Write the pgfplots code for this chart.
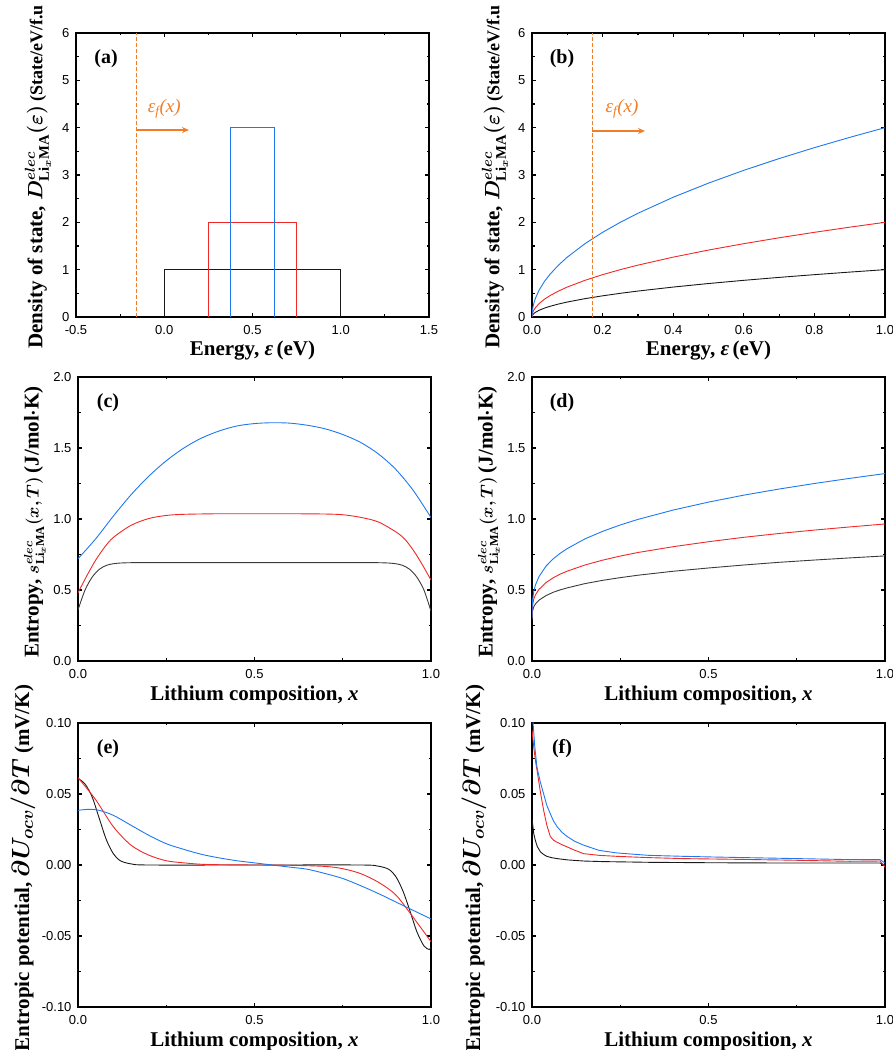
\documentclass[border=0pt]{standalone}
\usepackage{fontspec}
\setmainfont{Liberation Serif}
\setsansfont{Liberation Sans}
\usepackage{pgfplots}
\pgfplotsset{compat=1.18}
\usetikzlibrary{arrows.meta}
\definecolor{cblue}{RGB}{30,120,240}
\definecolor{cred}{RGB}{240,40,40}
\definecolor{cblack}{RGB}{25,25,25}
\definecolor{corange}{RGB}{240,125,40}
\newcommand\fs[1]{\fontsize{#1}{#1}\selectfont}
\pgfplotsset{
  myaxis/.style={
    scale only axis, width=353pt, height=284pt, anchor=south west,
    axis line style={line width=1.4pt},
    tick align=inside, major tick length=4pt, minor tick length=2.5pt,
    every tick/.style={line width=1.2pt, black},
    minor x tick num=1, minor y tick num=1,
    tick label style={font=\fontsize{13}{13}\selectfont\sffamily},
    xticklabel style={yshift=-5pt},
    yticklabel style={xshift=-3pt},
    /pgf/number format/assume math mode=true,
    label style={font=\fontsize{21}{23}\selectfont\bfseries\boldmath},
    xlabel style={at={(axis description cs:0.5,0)}, anchor=center, yshift=-34pt},
    every axis plot/.append style={line width=0.9pt},
    clip=true,
  },
  panel/.style={after end axis/.code={\node[font=\fontsize{20}{20}\selectfont\bfseries] at (axis description cs:0.085,0.91) {#1};}},
}
\begin{document}
\begin{tikzpicture}
\useasboundingbox (0,0) rectangle (893pt,1050pt);
% (a)
\begin{axis}[myaxis, at={(76pt,733pt)},
  xmin=-0.5, xmax=1.5, ymin=0, ymax=6,
  xtick={-0.5,0,0.5,1,1.5}, ytick={0,1,2,3,4,5,6},
  xticklabel style={/pgf/number format/.cd, fixed, fixed zerofill, precision=1},
  xlabel={Energy, \textit{ε}\,(eV)},
  ylabel={Density of state, $D^{elec}_{\mathrm{Li}_x\mathrm{MA}}(\varepsilon)$\,{\fs{18}(State/eV/f.u}},
  ylabel style={at={(axis description cs:0,0.5)}, anchor=center, yshift=38pt, xshift=-2pt},
  panel={(a)}]
\addplot[cblack] coordinates {(0,0)(0,1)(1,1)(1,0)};
\addplot[cred] coordinates {(0.25,0)(0.25,2)(0.75,2)(0.75,0)};
\addplot[cblue] coordinates {(0.375,0)(0.375,4)(0.625,4)(0.625,0)};
\addplot[corange, line width=1pt, dash pattern=on 4pt off 2pt] coordinates {(-0.16,0)(-0.16,6)};
\draw[corange, line width=1.8pt, -{Stealth[length=7pt,width=6pt]}] (axis cs:-0.16,3.95) -- (axis cs:0.14,3.95);
\node[corange, font=\fontsize{19}{19}\selectfont\itshape] at (axis cs:0.0,4.4) {ε\textsubscript{f}(x)};
\end{axis}
% (b)
\begin{axis}[myaxis, at={(532pt,733pt)},
  xmin=0, xmax=1, ymin=0, ymax=6,
  xtick={0,0.2,0.4,0.6,0.8,1}, ytick={0,1,2,3,4,5,6},
  xticklabel style={/pgf/number format/.cd, fixed, fixed zerofill, precision=1},
  xlabel={Energy, \textit{ε}\,(eV)},
  ylabel={Density of state, $D^{elec}_{\mathrm{Li}_x\mathrm{MA}}(\varepsilon)$\,{\fs{18}(State/eV/f.u}},
  ylabel style={at={(axis description cs:0,0.5)}, anchor=center, yshift=37pt, xshift=-2pt},
  panel={(b)}]
\addplot[cblack] coordinates {(0,0)(0.001,0.0316)(0.003,0.0548)(0.006,0.0775)(0.01,0.1)(0.02,0.1414)(0.035,0.1871)(0.05,0.2236)(0.075,0.2739)(0.1,0.3162)(0.15,0.3873)(0.2,0.4472)(0.25,0.5)(0.3,0.5477)(0.4,0.6325)(0.5,0.7071)(0.6,0.7746)(0.7,0.8367)(0.8,0.8944)(0.9,0.9487)(1,1)};
\addplot[cred] coordinates {(0,0)(0.001,0.0632)(0.003,0.1095)(0.006,0.1549)(0.01,0.2)(0.02,0.2828)(0.035,0.3742)(0.05,0.4472)(0.075,0.5477)(0.1,0.6325)(0.15,0.7746)(0.2,0.8944)(0.25,1.0)(0.3,1.0954)(0.4,1.2649)(0.5,1.4142)(0.6,1.5492)(0.7,1.6733)(0.8,1.7889)(0.9,1.8974)(1,2)};
\addplot[cblue] coordinates {(0,0)(0.001,0.1265)(0.003,0.2191)(0.006,0.3098)(0.01,0.4)(0.02,0.5657)(0.035,0.7483)(0.05,0.8944)(0.075,1.0954)(0.1,1.2649)(0.15,1.5492)(0.2,1.7889)(0.25,2.0)(0.3,2.1909)(0.4,2.5298)(0.5,2.8284)(0.6,3.0984)(0.7,3.3466)(0.8,3.5777)(0.9,3.7947)(1,4)};
\addplot[corange, line width=1pt, dash pattern=on 4pt off 2pt] coordinates {(0.17,0)(0.17,6)};
\draw[corange, line width=1.8pt, -{Stealth[length=7pt,width=6pt]}] (axis cs:0.17,3.93) -- (axis cs:0.32,3.93);
\node[corange, font=\fontsize{19}{19}\selectfont\itshape] at (axis cs:0.255,4.4) {ε\textsubscript{f}(x)};
\end{axis}
% (c)
\begin{axis}[myaxis, at={(78pt,389pt)},
  xmin=0, xmax=1, ymin=0, ymax=2,
  xtick={0,0.5,1}, ytick={0,0.5,1,1.5,2},
  xticklabel style={/pgf/number format/.cd, fixed, fixed zerofill, precision=1},
  yticklabel style={/pgf/number format/.cd, fixed, fixed zerofill, precision=1},
  xlabel={Lithium composition, \textit{x}},
  ylabel={Entropy, {\fs{17.5}$s^{elec}_{\mathrm{Li}_x\mathrm{MA}}(x,T)$}\,(J/mol$\cdot$K)},
  ylabel style={at={(axis description cs:0,0.5)}, anchor=center, yshift=43pt, xshift=-3pt},
  panel={(c)}]
\addplot[cblack!85, smooth] coordinates {(0,0.36)(0.02,0.50)(0.04,0.59)(0.06,0.645)(0.08,0.673)(0.1,0.685)(0.13,0.691)(0.2,0.693)(0.5,0.693)(0.8,0.693)(0.87,0.691)(0.9,0.685)(0.92,0.673)(0.94,0.645)(0.96,0.59)(0.98,0.50)(1,0.35)};
\addplot[cred, smooth] coordinates {(0,0.48)(0.025,0.60)(0.05,0.71)(0.075,0.80)(0.1,0.87)(0.15,0.955)(0.2,1.003)(0.25,1.025)(0.3,1.033)(0.4,1.037)(0.5,1.037)(0.6,1.037)(0.7,1.035)(0.75,1.03)(0.8,1.012)(0.85,0.98)(0.9,0.91)(0.925,0.86)(0.95,0.78)(0.975,0.68)(1,0.57)};
\addplot[cblue, smooth] coordinates {(0,0.72)(0.05,0.86)(0.1,1.02)(0.15,1.17)(0.2,1.30)(0.25,1.41)(0.3,1.50)(0.35,1.57)(0.4,1.62)(0.45,1.655)(0.5,1.672)(0.55,1.678)(0.6,1.675)(0.65,1.66)(0.7,1.635)(0.75,1.595)(0.8,1.54)(0.85,1.46)(0.9,1.35)(0.95,1.20)(1,1.01)};
\end{axis}
% (d)
\begin{axis}[myaxis, at={(532pt,389pt)},
  xmin=0, xmax=1, ymin=0, ymax=2,
  xtick={0,0.5,1}, ytick={0,0.5,1,1.5,2},
  xticklabel style={/pgf/number format/.cd, fixed, fixed zerofill, precision=1},
  yticklabel style={/pgf/number format/.cd, fixed, fixed zerofill, precision=1},
  xlabel={Lithium composition, \textit{x}},
  ylabel={Entropy, {\fs{17.5}$s^{elec}_{\mathrm{Li}_x\mathrm{MA}}(x,T)$}\,(J/mol$\cdot$K)},
  ylabel style={at={(axis description cs:0,0.5)}, anchor=center, yshift=43pt, xshift=-3pt},
  panel={(d)}]
\addplot[cblack!85] coordinates {(0,0.29)(0.001,0.347)(0.005,0.382)(0.01,0.403)(0.02,0.429)(0.04,0.461)(0.06,0.484)(0.08,0.501)(0.1,0.515)(0.15,0.545)(0.2,0.568)(0.25,0.587)(0.3,0.604)(0.4,0.632)(0.5,0.655)(0.6,0.676)(0.7,0.695)(0.8,0.711)(0.9,0.726)(1,0.74)};
\addplot[cred] coordinates {(0,0.30)(0.001,0.384)(0.005,0.436)(0.01,0.467)(0.02,0.505)(0.04,0.553)(0.06,0.586)(0.08,0.612)(0.1,0.633)(0.15,0.676)(0.2,0.710)(0.25,0.739)(0.3,0.764)(0.4,0.805)(0.5,0.840)(0.6,0.871)(0.7,0.898)(0.8,0.922)(0.9,0.944)(1,0.965)};
\addplot[cblue] coordinates {(0,0.30)(0.001,0.415)(0.005,0.49)(0.01,0.537)(0.02,0.595)(0.04,0.669)(0.06,0.719)(0.08,0.759)(0.1,0.792)(0.15,0.86)(0.2,0.913)(0.25,0.958)(0.3,0.997)(0.4,1.063)(0.5,1.119)(0.6,1.168)(0.7,1.211)(0.8,1.25)(0.9,1.286)(1,1.32)};
\end{axis}
% (e)
\begin{axis}[myaxis, at={(78pt,43pt)},
  xmin=0, xmax=1, ymin=-0.1, ymax=0.1,
  xtick={0,0.5,1}, ytick={-0.1,-0.05,0,0.05,0.1},
  xticklabel style={/pgf/number format/.cd, fixed, fixed zerofill, precision=2},
  xticklabel style={/pgf/number format/.cd, fixed, fixed zerofill, precision=1},
  yticklabel style={/pgf/number format/.cd, fixed, fixed zerofill, precision=2},
  xlabel={Lithium composition, \textit{x}},
  ylabel={Entropic potential, {\fs{25}$\partial U_{ocv}/\partial T$} (mV/K)},
  ylabel style={at={(axis description cs:0,0.5)}, anchor=center, yshift=55pt, xshift=-3pt},
  panel={(e)}]
\addplot[cblack, smooth] coordinates {(0,0.061)(0.02,0.057)(0.04,0.048)(0.06,0.033)(0.08,0.018)(0.1,0.008)(0.12,0.003)(0.15,0.0008)(0.2,0)(0.5,0)(0.8,0)(0.85,-0.0008)(0.88,-0.003)(0.9,-0.008)(0.92,-0.018)(0.94,-0.032)(0.96,-0.047)(0.98,-0.057)(0.995,-0.0595)(1,-0.058)};
\addplot[cred, smooth] coordinates {(0,0.0615)(0.05,0.046)(0.1,0.027)(0.15,0.014)(0.2,0.007)(0.25,0.003)(0.3,0.0015)(0.35,0.0005)(0.4,0.0002)(0.5,0)(0.6,-0.0002)(0.7,-0.001)(0.75,-0.0026)(0.8,-0.006)(0.85,-0.012)(0.9,-0.021)(0.95,-0.037)(1,-0.054)};
\addplot[cblue, smooth] coordinates {(0,0.0385)(0.03,0.0392)(0.06,0.0385)(0.1,0.035)(0.15,0.028)(0.2,0.021)(0.25,0.015)(0.3,0.011)(0.35,0.0075)(0.4,0.005)(0.45,0.003)(0.5,0.0015)(0.55,0)(0.6,-0.0015)(0.65,-0.003)(0.7,-0.006)(0.75,-0.0095)(0.8,-0.0145)(0.85,-0.020)(0.9,-0.026)(0.95,-0.032)(1,-0.038)};
\end{axis}
% (f)
\begin{axis}[myaxis, at={(532pt,43pt)},
  xmin=0, xmax=1, ymin=-0.1, ymax=0.1,
  xtick={0,0.5,1}, ytick={-0.1,-0.05,0,0.05,0.1},
  xticklabel style={/pgf/number format/.cd, fixed, fixed zerofill, precision=1},
  yticklabel style={/pgf/number format/.cd, fixed, fixed zerofill, precision=2},
  xlabel={Lithium composition, \textit{x}},
  ylabel={Entropic potential, {\fs{25}$\partial U_{ocv}/\partial T$} (mV/K)},
  ylabel style={at={(axis description cs:0,0.5)}, anchor=center, yshift=58pt, xshift=-3pt},
  panel={(f)}]
\addplot[cblack] coordinates {(0,0.0326)(0.005,0.022)(0.0094,0.0174)(0.015,0.013)(0.024,0.0092)(0.033,0.0074)(0.042,0.0061)(0.055,0.0052)(0.071,0.0045)(0.1,0.0036)(0.146,0.0028)(0.2,0.0024)(0.33,0.0019)(0.5,0.0016)(0.71,0.0014)(0.986,0.0014)(1,0)};
\addplot[cred] coordinates {(0,0.095)(0.005,0.083)(0.01,0.073)(0.016,0.064)(0.024,0.051)(0.033,0.0385)(0.042,0.028)(0.052,0.020)(0.061,0.0175)(0.071,0.016)(0.085,0.0143)(0.1,0.0127)(0.12,0.0105)(0.146,0.008)(0.19,0.0068)(0.24,0.0061)(0.33,0.0052)(0.43,0.0045)(0.55,0.0041)(0.71,0.0035)(0.9,0.0026)(0.986,0.0028)(1,-0.0014)};
\addplot[cblue] coordinates {(0,0.115)(0.003,0.1)(0.008,0.083)(0.014,0.069)(0.023,0.059)(0.033,0.050)(0.042,0.042)(0.052,0.036)(0.061,0.031)(0.071,0.027)(0.085,0.023)(0.1,0.020)(0.12,0.0168)(0.146,0.014)(0.19,0.0103)(0.24,0.0085)(0.33,0.0068)(0.43,0.0061)(0.52,0.0056)(0.71,0.0047)(0.9,0.0038)(0.986,0.0038)(1,0.0014)};
\end{axis}
\end{tikzpicture}
\end{document}
